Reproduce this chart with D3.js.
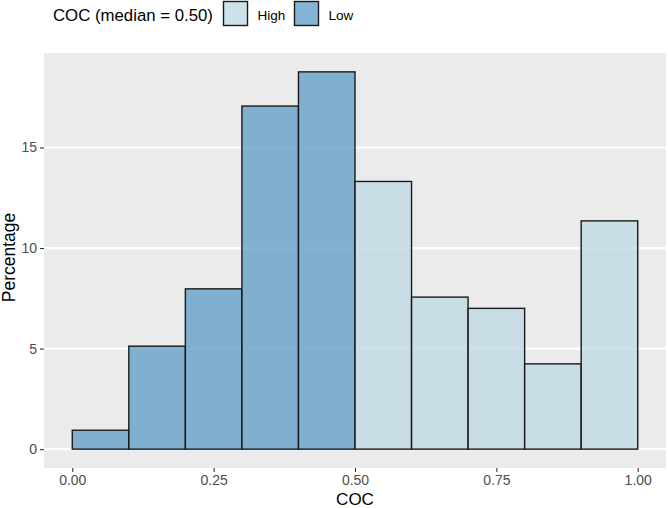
<!DOCTYPE html>
<html>
<head>
<meta charset="utf-8">
<script src="https://cdn.jsdelivr.net/npm/d3@7"></script>
<style>
  html, body { margin: 0; padding: 0; background: #ffffff; }
  svg { display: block; font-family: "Liberation Sans", Arial, sans-serif; }
</style>
</head>
<body>
<svg id="chart" width="668" height="508"></svg>
<script>
// ---- data ----
const binStarts = [0.0, 0.1, 0.2, 0.3, 0.4, 0.5, 0.6, 0.7, 0.8, 0.9];
const binWidth = 0.1;
const percentages = [0.94, 5.12, 7.97, 17.06, 18.76, 13.31, 7.56, 7.0, 4.24, 11.35];
const groups = ["Low", "Low", "Low", "Low", "Low", "High", "High", "High", "High", "High"];
const legendLabels = ["High", "Low"];
const xTicks = [0, 0.25, 0.5, 0.75, 1.0];
const yTicks = [0, 5, 10, 15];
const legendTitle = "COC (median = 0.50)";
const xTitle = "COC";
const yTitle = "Percentage";

// ---- layout ----
const svg = d3.select("#chart");
const panel = { left: 44, right: 666, top: 53, bottom: 468 };
const fills = { High: "#c0d9e6", Low: "#65a0c9" };

const yMax = d3.max(percentages);
const x = d3.scaleLinear().domain([-0.05, 1.05]).range([panel.left, panel.right]);
const y = d3.scaleLinear().domain([-yMax * 0.05, yMax * 1.05]).range([panel.bottom, panel.top]);

// panel background
svg.append("rect")
  .attr("x", panel.left).attr("y", panel.top)
  .attr("width", panel.right - panel.left).attr("height", panel.bottom - panel.top)
  .attr("fill", "#ebebeb");

// major gridlines (y only)
svg.append("g").selectAll("line").data(yTicks).join("line")
  .attr("x1", panel.left).attr("x2", panel.right)
  .attr("y1", d => y(d)).attr("y2", d => y(d))
  .attr("stroke", "#ffffff").attr("stroke-width", 2.2);

// bars
const bars = binStarts.map((s, i) => ({ s, v: percentages[i], g: groups[i] }));
svg.append("g").selectAll("rect").data(bars).join("rect")
  .attr("x", d => x(d.s))
  .attr("y", d => y(d.v))
  .attr("width", d => x(d.s + binWidth) - x(d.s))
  .attr("height", d => y(0) - y(d.v))
  .attr("fill", d => fills[d.g])
  .attr("fill-opacity", 0.8)
  .attr("stroke", "#1a1a1a")
  .attr("stroke-width", 1.4);

// y axis
const yAxis = d3.axisLeft(y).tickValues(yTicks).tickSize(4).tickPadding(3).tickFormat(d3.format("d"));
const gy = svg.append("g").attr("transform", `translate(${panel.left},0)`).call(yAxis);
gy.select(".domain").remove();
gy.selectAll(".tick line").attr("stroke", "#333333").attr("stroke-width", 1.1);
gy.selectAll(".tick text").attr("fill", "#4d4d4d").style("font-size", "14px");

// x axis
const xAxis = d3.axisBottom(x).tickValues(xTicks).tickSize(4).tickPadding(3).tickFormat(d3.format(".2f"));
const gx = svg.append("g").attr("transform", `translate(0,${panel.bottom})`).call(xAxis);
gx.select(".domain").remove();
gx.selectAll(".tick line").attr("stroke", "#333333").attr("stroke-width", 1.1);
gx.selectAll(".tick text").attr("fill", "#4d4d4d").style("font-size", "14px");

// axis titles
svg.append("text")
  .attr("x", (panel.left + panel.right) / 2).attr("y", 505)
  .attr("text-anchor", "middle").attr("fill", "#000")
  .style("font-size", "17px").text(xTitle);
svg.append("text")
  .attr("transform", `translate(15,${(panel.top + panel.bottom) / 2 - 3}) rotate(-90)`)
  .attr("text-anchor", "middle").attr("fill", "#000")
  .style("font-size", "17.5px").text(yTitle);

// legend
const lg = svg.append("g");
lg.append("text").attr("x", 53).attr("y", 21)
  .attr("fill", "#000").style("font-size", "16.8px").text(legendTitle);
const keyPos = [223.5, 294.5];
legendLabels.forEach((lab, i) => {
  lg.append("rect")
    .attr("x", keyPos[i]).attr("y", 1.5)
    .attr("width", 24).attr("height", 24)
    .attr("fill", fills[lab]).attr("fill-opacity", 0.8)
    .attr("stroke", "#1a1a1a").attr("stroke-width", 1.4);
  lg.append("text")
    .attr("x", keyPos[i] + 34).attr("y", 19.5)
    .attr("fill", "#000").style("font-size", "13.5px").text(lab);
});
</script>
</body>
</html>
